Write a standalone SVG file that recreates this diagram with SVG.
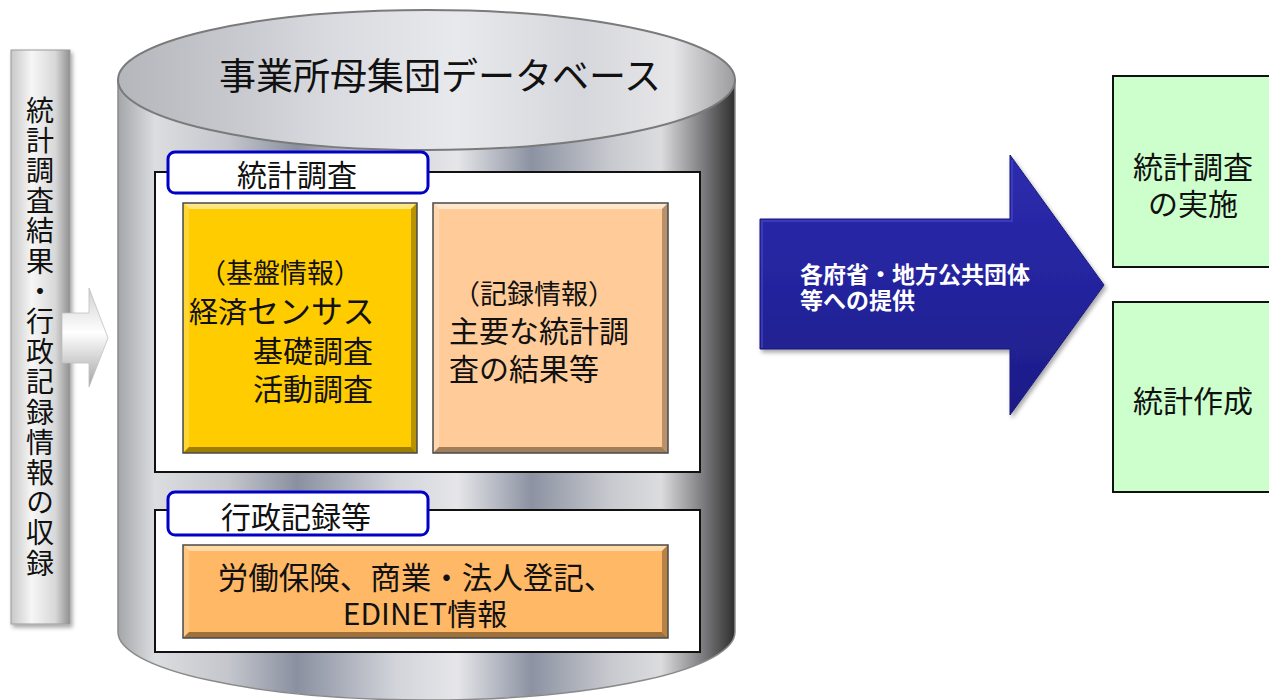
<svg xmlns="http://www.w3.org/2000/svg" width="1269" height="700" viewBox="0 0 1269 700">
<style>
text{font-family:"Noto Sans CJK JP","Noto Sans CJK SC",sans-serif;fill:#111}
.t30{font-size:30px}
.t26{font-size:27px}
.box{fill:#fff;stroke:#111;stroke-width:2}
.tab{fill:#fff;stroke:#0000c8;stroke-width:3}
.green{fill:#ccffcc;stroke:#111;stroke-width:2}
.edge{stroke:#4a4a4a;stroke-width:1.5;fill:none}
.wt{font-size:23px;font-weight:bold;fill:#fff}
</style>
<defs>
<linearGradient id="body" gradientUnits="userSpaceOnUse" x1="118" y1="0" x2="735" y2="0">
<stop offset="0" stop-color="#a4a6aa"/>
<stop offset="0.06" stop-color="#dcdde0"/>
<stop offset="0.18" stop-color="#c4c6cc"/>
<stop offset="0.29" stop-color="#8a90a0"/>
<stop offset="0.45" stop-color="#d2d4da"/>
<stop offset="0.55" stop-color="#e6e6e9"/>
<stop offset="0.67" stop-color="#8c92a2"/>
<stop offset="0.8" stop-color="#c8cacf"/>
<stop offset="0.88" stop-color="#dcdcdf"/>
<stop offset="0.95" stop-color="#7a7a7c"/>
<stop offset="1" stop-color="#2e2e2e"/>
</linearGradient>
<linearGradient id="top" gradientUnits="userSpaceOnUse" x1="118" y1="0" x2="735" y2="0">
<stop offset="0" stop-color="#b4b6bc"/>
<stop offset="0.2" stop-color="#c8cad0"/>
<stop offset="0.35" stop-color="#dadbe0"/>
<stop offset="0.55" stop-color="#e8e9ec"/>
<stop offset="0.75" stop-color="#d6d7dc"/>
<stop offset="0.9" stop-color="#e6e6e8"/>
<stop offset="1" stop-color="#9c9c9e"/>
</linearGradient>
<linearGradient id="bar" x1="0" y1="0" x2="1" y2="0">
<stop offset="0" stop-color="#c8c8c8"/>
<stop offset="0.35" stop-color="#f6f6f6"/>
<stop offset="0.75" stop-color="#d8d8d8"/>
<stop offset="1" stop-color="#909090"/>
</linearGradient>
<linearGradient id="small" x1="0" y1="0" x2="0" y2="1">
<stop offset="0" stop-color="#d0d0d0"/>
<stop offset="0.45" stop-color="#ffffff"/>
<stop offset="1" stop-color="#a4a4a4"/>
</linearGradient>
<linearGradient id="blue" x1="0" y1="0" x2="0" y2="1">
<stop offset="0" stop-color="#2c2cae"/>
<stop offset="0.5" stop-color="#24249e"/>
<stop offset="1" stop-color="#1c1c86"/>
</linearGradient>
<filter id="sh" x="-10%" y="-10%" width="130%" height="130%">
<feDropShadow dx="2" dy="3" stdDeviation="2" flood-color="#000" flood-opacity="0.35"/>
</filter>
</defs>

<g id="database">
<path d="M118,80 L118,632 A308.5,68 0 0 0 735,632 L735,80 Z" fill="url(#body)" stroke="#8a8a8a" stroke-width="1.5"/>
<ellipse cx="426.5" cy="80" rx="308.5" ry="70" fill="url(#top)" stroke="#7a7a7a" stroke-width="2"/>
<text x="440" y="90" text-anchor="middle" style="font-size:37px">事業所母集団データベース</text>
</g>

<g id="survey-section">
<rect class="box" x="155" y="172" width="545" height="300"/>
<rect class="tab" x="168" y="152" width="260" height="41" rx="7"/>
<text class="t30" x="297" y="186" text-anchor="middle">統計調査</text>
</g>

<g id="base-info">
<rect x="183" y="203" width="234" height="250" fill="#ffcc00"/>
<polygon points="183,203 417,203 411,209 189,209" fill="#ffe680"/>
<polygon points="183,203 189,209 189,447 183,453" fill="#ffd633"/>
<polygon points="417,203 417,453 411,447 411,209" fill="#b89300"/>
<polygon points="183,453 417,453 411,447 189,447" fill="#9e7e00"/>
<rect class="edge" x="183" y="203" width="234" height="250"/>
<text class="t26" x="199" y="283">（基盤情報）</text>
<text x="189" y="323"><tspan style="font-size:29px">経済</tspan><tspan style="font-size:32px">センサス</tspan></text>
<text class="t30" x="253" y="362">基礎調査</text>
<text class="t30" x="253" y="400">活動調査</text>
</g>

<g id="record-info">
<rect x="433" y="203" width="235" height="250" fill="#ffcc99"/>
<polygon points="433,203 668,203 662,209 439,209" fill="#ffe6cc"/>
<polygon points="433,203 439,209 439,447 433,453" fill="#ffd6ad"/>
<polygon points="668,203 668,453 662,447 662,209" fill="#b8916b"/>
<polygon points="433,453 668,453 662,447 439,447" fill="#a07e5c"/>
<rect class="edge" x="433" y="203" width="235" height="250"/>
<text class="t26" x="453" y="304">（記録情報）</text>
<text class="t30" x="449" y="342">主要な統計調</text>
<text class="t30" x="449" y="380">査の結果等</text>
</g>

<g id="admin-section">
<rect class="box" x="155" y="510" width="545" height="142"/>
<rect class="tab" x="168" y="492" width="260" height="43" rx="7"/>
<text class="t30" x="296" y="528" text-anchor="middle">行政記録等</text>
</g>

<g id="admin-info">
<rect x="183" y="545" width="485" height="93" fill="#ffb866"/>
<polygon points="183,545 668,545 662,551 189,551" fill="#ffd9a6"/>
<polygon points="183,545 189,551 189,632 183,638" fill="#ffc680"/>
<polygon points="668,545 668,638 662,632 662,551" fill="#b88245"/>
<polygon points="183,638 668,638 662,632 189,632" fill="#a0703a"/>
<rect class="edge" x="183" y="545" width="485" height="93"/>
<text x="416" y="589" text-anchor="middle" style="font-size:30.5px">労働保険、商業・法人登記、</text>
<text class="t30" x="425" y="625" text-anchor="middle">EDINET情報</text>
</g>

<g id="collection">
<rect x="11" y="50" width="59" height="574" fill="url(#bar)" stroke="#9a9a9a" stroke-width="1" filter="url(#sh)"/>
<text x="40" y="96" style="font-size:28px;writing-mode:vertical-rl;text-orientation:upright;letter-spacing:2.2px">統計調査結果・行政記録情報の収録</text>
</g>

<g id="survey-exec">
<rect class="green" x="1113" y="76" width="160" height="191"/>
<text class="t30" x="1193" y="178" text-anchor="middle">統計調査</text>
<text class="t30" x="1193" y="215" text-anchor="middle">の実施</text>
</g>
<g id="stat-create">
<rect class="green" x="1113" y="302" width="160" height="190"/>
<text class="t30" x="1193" y="412" text-anchor="middle">統計作成</text>
</g>

<g id="connectors">
<polygon points="62,313 89,313 89,288 108,338 89,387 89,363 62,363" fill="url(#small)" stroke="#c0c0c0" stroke-width="0.8"/>
<g filter="url(#sh)">
<polygon points="760,219 1010,219 1010,155 1104,285 1010,415 1010,349 760,349" fill="url(#blue)" stroke="#1a1a7a" stroke-width="1"/>
</g>
<polyline points="762,348 762,221 1012,221 1012,160" fill="none" stroke="#4848c8" stroke-width="2" opacity="0.6"/>
<text class="wt" x="800" y="283">各府省・地方公共団体</text>
<text class="wt" x="800" y="309">等への提供</text>
</g>
</svg>
